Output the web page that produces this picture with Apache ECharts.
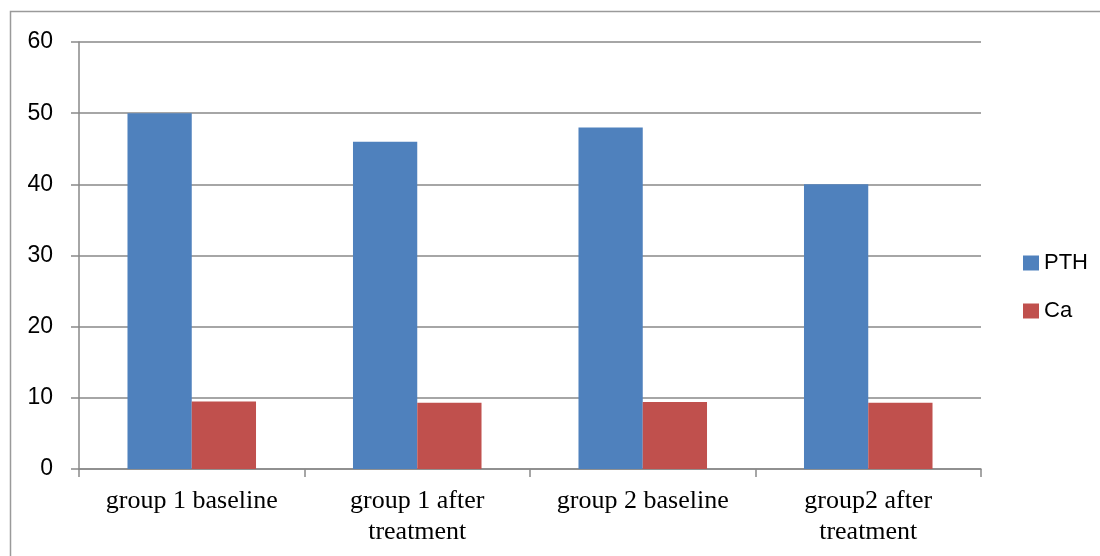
<!DOCTYPE html>
<html>
<head>
<meta charset="utf-8">
<script src="https://cdn.jsdelivr.net/npm/echarts@6/dist/echarts.min.js"></script>
<style>
html,body{margin:0;padding:0;background:#fff;}
#c{width:1100px;height:556px;}
</style>
</head>
<body>
<div id="c"></div>
<script>
const categories = ['group 1 baseline', 'group 1 after\ntreatment', 'group 2 baseline', 'group2 after\ntreatment'];
const pthValues = [50, 46, 48, 40];
const caValues = [9.5, 9.3, 9.4, 9.3];
const yTicks = [0, 10, 20, 30, 40, 50, 60];

const chart = echarts.init(document.getElementById('c'), null, {renderer: 'canvas'});
const gray = '#898989';
chart.setOption({
  animation: false,
  backgroundColor: '#fff',
  graphic: [{
    type: 'rect',
    shape: {x: 10.5, y: 11.5, width: 1300, height: 800},
    style: {fill: 'none', stroke: '#9a9a9a', lineWidth: 1.5},
    silent: true
  }],
  grid: {left: 79, right: 119, top: 42, bottom: 87, containLabel: false},
  legend: {
    orient: 'vertical',
    left: 1023,
    top: 252,
    padding: 0,
    itemWidth: 16,
    itemHeight: 15,
    itemGap: 26,
    icon: 'rect',
    textStyle: {fontFamily: 'Liberation Sans', fontSize: 22, color: '#000', lineHeight: 22},
    data: ['PTH', 'Ca']
  },
  xAxis: {
    type: 'category',
    data: categories,
    axisLine: {lineStyle: {color: gray, width: 1.5}},
    axisTick: {show: true, length: 8, lineStyle: {color: gray, width: 1.5}},
    axisLabel: {fontFamily: 'Liberation Serif', fontSize: 26, color: '#000', lineHeight: 31, margin: 17, interval: 0}
  },
  yAxis: {
    type: 'value',
    min: 0,
    max: 60,
    interval: 10,
    axisLine: {show: true, lineStyle: {color: gray, width: 1.5}},
    axisTick: {show: true, length: 8, lineStyle: {color: gray, width: 1.5}},
    splitLine: {lineStyle: {color: gray, width: 1.5}},
    axisLabel: {fontFamily: 'Liberation Sans', fontSize: 23, color: '#000', margin: 26,
      formatter: v => yTicks.includes(v) ? String(v) : ''}
  },
  series: [
    {name: 'PTH', type: 'bar', data: pthValues, barGap: '0%', barCategoryGap: '43%',
      itemStyle: {color: '#4F81BD'}},
    {name: 'Ca', type: 'bar', data: caValues, barGap: '0%', barCategoryGap: '43%',
      itemStyle: {color: '#C0504D'}}
  ]
});
</script>
</body>
</html>
